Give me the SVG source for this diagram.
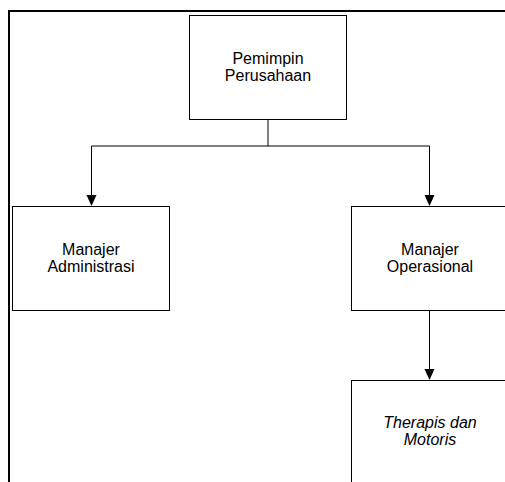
<svg xmlns="http://www.w3.org/2000/svg" width="505" height="482" viewBox="0 0 505 482">
<style>
.box{fill:#fff;stroke:#000;stroke-width:1}
.t{font-family:"Liberation Sans",Arial,sans-serif;font-size:16px;fill:#000;text-anchor:middle}
.i{font-style:italic}
.c{fill:none;stroke:#000;stroke-width:1}
.ah{fill:#000}
</style>
<g id="frame">
<path d="M9,482 V11 H505" fill="none" stroke="#000" stroke-width="2"/>
</g>
<g id="connectors">
<path class="c" d="M268,119 V146"/>
<path class="c" d="M91.5,146 H429.5"/>
<path class="c" d="M91.5,146 V195"/>
<path class="c" d="M429.5,146 V195"/>
<path class="c" d="M429.5,311 V369"/>
<path class="ah" d="M86.5,195 H96.5 L91.5,206 Z"/>
<path class="ah" d="M424.5,195 H434.5 L429.5,206 Z"/>
<path class="ah" d="M424.5,369 H434.5 L429.5,380 Z"/>
</g>
<g id="pemimpin">
<rect class="box" x="189.5" y="15.5" width="157" height="104"/>
<text class="t" x="268" y="64">Pemimpin</text>
<text class="t" x="268" y="81">Perusahaan</text>
</g>
<g id="administrasi">
<rect class="box" x="12.5" y="206.5" width="157" height="104"/>
<text class="t" x="91" y="255">Manajer</text>
<text class="t" x="91" y="272">Administrasi</text>
</g>
<g id="operasional">
<rect class="box" x="351.5" y="206.5" width="160" height="104"/>
<text class="t" x="430" y="255">Manajer</text>
<text class="t" x="430" y="272">Operasional</text>
</g>
<g id="therapis">
<rect class="box" x="351.5" y="380.5" width="160" height="110"/>
<text class="t i" x="430" y="428">Therapis dan</text>
<text class="t i" x="430" y="445">Motoris</text>
</g>
</svg>
